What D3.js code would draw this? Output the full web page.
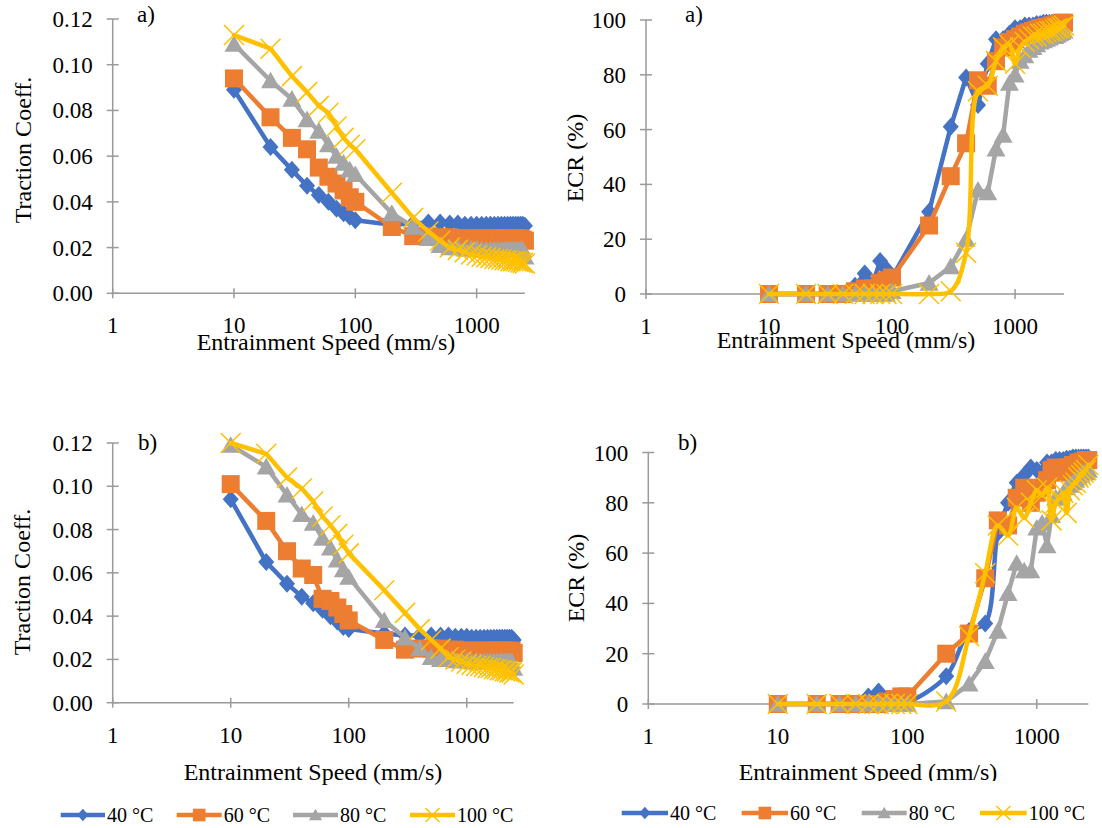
<!DOCTYPE html>
<html><head><meta charset="utf-8">
<script src="https://cdn.jsdelivr.net/npm/d3@7"></script>
<style>
body{margin:0;background:#fff}
svg{display:block}
text{font-family:"Liberation Serif","Times New Roman",serif;fill:#000}
</style>
</head><body><svg id="c" width="1102" height="828"></svg>
<script>
// ---------------- data ----------------
const speeds = [10,20,30,40,50,60,70,80,90,100,200,300,400,500,600,700,800,900,1000,
  1100,1200,1300,1400,1500,1600,1700,1800,1900,2000,2100,2200,2300,2400,2500];
const seriesNames = ["40 °C","60 °C","80 °C","100 °C"];

const tractionA_40 = [0.089,0.064,0.054,0.047,0.043,0.040,0.037,0.035,0.0335,0.032,0.030,0.0305,0.031,0.031,0.0305,0.0305,0.030,0.030,0.030,0.030,0.030,0.030,0.030,0.030,0.030,0.030,0.030,0.030,0.030,0.030,0.030,0.030,0.030,0.0295];
const tractionA_60 = [0.094,0.077,0.068,0.063,0.055,0.051,0.048,0.045,0.042,0.040,0.029,0.025,0.025,0.0245,0.0245,0.024,0.024,0.024,0.024,0.024,0.024,0.024,0.024,0.024,0.024,0.024,0.024,0.024,0.024,0.024,0.024,0.024,0.0235,0.023];
const tractionA_80 = [0.109,0.093,0.085,0.076,0.071,0.065,0.060,0.057,0.054,0.052,0.035,0.029,0.024,0.021,0.020,0.020,0.0195,0.0195,0.0195,0.019,0.019,0.019,0.019,0.019,0.019,0.019,0.019,0.019,0.019,0.019,0.019,0.019,0.019,0.016];
const tractionA_100 = [0.113,0.107,0.095,0.088,0.082,0.079,0.073,0.068,0.065,0.063,0.044,0.033,0.027,0.023,0.020,0.019,0.018,0.017,0.0165,0.016,0.0158,0.0155,0.015,0.015,0.0148,0.0145,0.0145,0.014,0.014,0.014,0.0138,0.0135,0.0133,0.013];

const tractionB_40 = [0.094,0.065,0.055,0.049,0.046,0.043,0.040,0.0375,0.035,0.034,0.032,0.031,0.031,0.031,0.031,0.031,0.0305,0.0305,0.0305,0.030,0.030,0.030,0.030,0.030,0.030,0.030,0.030,0.030,0.030,0.030,0.030,0.030,0.030,0.029];
const tractionB_60 = [0.101,0.084,0.070,0.062,0.059,0.048,0.047,0.044,0.041,0.038,0.029,0.0245,0.025,0.025,0.025,0.0245,0.0245,0.024,0.024,0.024,0.024,0.024,0.024,0.024,0.024,0.024,0.024,0.024,0.024,0.024,0.024,0.024,0.024,0.023];
const tractionB_80 = [0.119,0.109,0.096,0.087,0.083,0.076,0.0715,0.066,0.0615,0.058,0.038,0.030,0.025,0.021,0.020,0.020,0.0195,0.0195,0.0195,0.019,0.019,0.019,0.019,0.019,0.019,0.019,0.019,0.019,0.019,0.019,0.019,0.019,0.019,0.016];
const tractionB_100 = [0.120,0.115,0.104,0.099,0.093,0.086,0.082,0.078,0.073,0.069,0.052,0.0415,0.034,0.029,0.025,0.021,0.020,0.019,0.018,0.0175,0.017,0.017,0.0165,0.016,0.016,0.0155,0.0155,0.015,0.015,0.0145,0.0145,0.014,0.014,0.013];

const ecrA_40 = [0,0,0,0,3,7.5,4,12,9,6,30,61,79,69,84,93,93,95,97,97,98,98,98,98.5,98.5,99,99,99,99,99,99,99,99,99];
const ecrA_60 = [0,0,0,0,1,2,2,4,5,6,25,43,55,78,76,85,90,92,93,94,95,95.5,96,96.5,97,97,97.5,97.5,98,98,98.5,98.5,99,99];
const ecrA_80 = [0,0,0,0,0,0,0,0,0,1,4,10,20,38,37,53,58,77,80,85,87,89,90,91,92,92.5,93,93.5,94,94,94.5,95,95.5,96];
const ecrA_100 = [0,0,0,0,0,0,0,0,0,0,0,1,15,74,76,85,90,91,84,90,92,93,94,94,95,95,95.5,96,96,96.5,97,97,97.5,98];

const ecrB_40 = [0,0,0,0,3,5,2,2,2,1,11,29,32,68,80,88,91,94,93,92,96,96,97,97,97,97.5,97.5,98,98,98,98,98,98,98];
const ecrB_60 = [0,0,0,0,0,0,1,2,3,3,20,28,50,73,71,82,86,80,84,86,89,93,94,92,93,94,94,95,95,96,96,96.5,97,97];
const ecrB_80 = [0,0,0,0,0,0,0,0,0,0,1,8,17,29,44,56,53,53,70,72,63,75,82,82,84,86,87,88,89,90,91,92,92,93];
const ecrB_100 = [0,0,0,0,0,0,0,0,0,0,1,27,52,71,67,78,74,80,85,83,86,73,80,82,84,76,85,87,88,90,91,92,93,95];

const speedTicks = [1,10,100,1000];
const tractionTicks = [0,0.02,0.04,0.06,0.08,0.10,0.12];
const ecrTicks = [0,20,40,60,80,100];
const xTitle = "Entrainment Speed (mm/s)";

// ---------------- style ----------------
const colors = ["#4472C4","#ED7D31","#A5A5A5","#FFC000"];
const markerTypes = ["diamond","square","triangle","x"];
const axisColor = "#9a9a9a";

const svg = d3.select("#c");
svg.append("rect").attr("width",1102).attr("height",828).attr("fill","#fff");

function drawMarker(g, type, cx, cy, color, legend){
  const k = legend ? 0.7 : 1;
  if(type==="diamond"){
    const w=8*k,h=9*k;
    g.append("path").attr("d",`M${cx},${cy-h}L${cx+w},${cy}L${cx},${cy+h}L${cx-w},${cy}Z`).attr("fill",color);
  } else if(type==="square"){
    const s=9*k;
    g.append("rect").attr("x",cx-s).attr("y",cy-s).attr("width",2*s).attr("height",2*s).attr("fill",color);
  } else if(type==="triangle"){
    const w=9.5*k,h=9*k;
    g.append("path").attr("d",`M${cx},${cy-h}L${cx+w},${cy+h*0.85}L${cx-w},${cy+h*0.85}Z`).attr("fill",color);
  } else {
    const s=10*k;
    g.append("path").attr("d",`M${cx-s},${cy-s}L${cx+s},${cy+s}M${cx-s},${cy+s}L${cx+s},${cy-s}`)
      .attr("stroke",color).attr("stroke-width",1.5).attr("fill","none");
  }
}

const panels = [
  {x0:112.7, x1:524.9, y0:293.3, y1:19, ydom:[0,0.12], yticks:tractionTicks, fmt:d3.format(".2f"),
   series:[tractionA_40,tractionA_60,tractionA_80,tractionA_100], smooth:[false,false,false,false],
   label:"a)", lx:137, ly:22, ytitle:"Traction Coeff.", ytx:23, yty:150, xtx:326, xty:350},
  {x0:646, x1:1064, y0:294, y1:20, ydom:[0,100], yticks:ecrTicks, fmt:d3.format("d"),
   series:[ecrA_40,ecrA_60,ecrA_80,ecrA_100], smooth:[false,false,false,true],
   label:"a)", lx:685, ly:22, ytitle:"ECR (%)", ytx:575, yty:158, xtx:846, xty:348},
  {x0:112.7, x1:513.7, y0:702.7, y1:443, ydom:[0,0.12], yticks:tractionTicks, fmt:d3.format(".2f"),
   series:[tractionB_40,tractionB_60,tractionB_80,tractionB_100], smooth:[false,false,false,false],
   label:"b)", lx:138, ly:450, ytitle:"Traction Coeff.", ytx:22, yty:582, xtx:313, xty:780},
  {x0:648.3, x1:1088.3, y0:704, y1:452.5, ydom:[0,100], yticks:ecrTicks, fmt:d3.format("d"),
   series:[ecrB_40,ecrB_60,ecrB_80,ecrB_100], smooth:[true,false,false,true],
   label:"b)", lx:678, ly:450, ytitle:"ECR (%)", ytx:576, yty:578, xtx:868, xty:780, clipTitle:781}
];

const defs = svg.append("defs");

panels.forEach((p,pi)=>{
  const x = d3.scaleLog().domain([1,2500]).range([p.x0,p.x1]);
  const y = d3.scaleLinear().domain(p.ydom).range([p.y0,p.y1]);
  const g = svg.append("g");

  // axes lines
  g.append("line").attr("x1",p.x0).attr("x2",p.x1).attr("y1",p.y0).attr("y2",p.y0)
    .attr("stroke",axisColor).attr("stroke-width",1.5);
  g.append("line").attr("x1",p.x0).attr("x2",p.x0).attr("y1",p.y0).attr("y2",p.y1)
    .attr("stroke",axisColor).attr("stroke-width",1.5);
  // x ticks (cross)
  speedTicks.forEach(t=>{
    g.append("line").attr("x1",x(t)).attr("x2",x(t)).attr("y1",p.y0-5).attr("y2",p.y0+5)
      .attr("stroke",axisColor).attr("stroke-width",1.5);
    g.append("text").attr("x",x(t)).attr("y",p.y0+40).attr("text-anchor","middle")
      .attr("font-size",23).text(d3.format("d")(t));
  });
  p.yticks.forEach(t=>{
    g.append("line").attr("x1",p.x0-6).attr("x2",p.x0+6).attr("y1",y(t)).attr("y2",y(t))
      .attr("stroke",axisColor).attr("stroke-width",1.5);
    g.append("text").attr("x",p.x0-20).attr("y",y(t)).attr("dy","0.35em").attr("text-anchor","end")
      .attr("font-size",23).text(p.fmt(t));
  });
  // titles
  const xt = g.append("text").attr("x",p.xtx).attr("y",p.xty).attr("text-anchor","middle")
    .attr("font-size",24).text(xTitle);
  if(p.clipTitle){
    defs.append("clipPath").attr("id","clipT"+pi).append("rect")
      .attr("x",0).attr("y",0).attr("width",1102).attr("height",p.clipTitle);
    xt.attr("clip-path",`url(#clipT${pi})`);
  }
  g.append("text").attr("transform",`translate(${p.ytx},${p.yty}) rotate(-90)`)
    .attr("text-anchor","middle").attr("dy","0.35em").attr("font-size",24).text(p.ytitle);
  g.append("text").attr("x",p.lx).attr("y",p.ly).attr("font-size",23).text(p.label);

  // series
  p.series.forEach((vals,si)=>{
    const pts = speeds.map((s,i)=>[s,vals[i]]);
    const line = d3.line().x(d=>x(d[0])).y(d=>y(d[1]))
      .curve(p.smooth[si] ? d3.curveCatmullRom.alpha(0.5) : d3.curveLinear);
    const sg = g.append("g");
    sg.append("path").attr("d",line(pts)).attr("fill","none").attr("stroke",colors[si])
      .attr("stroke-width",4.5).attr("stroke-linejoin","round").attr("stroke-linecap","round");
    pts.forEach(d=>drawMarker(sg, markerTypes[si], x(d[0]), y(d[1]), colors[si], false));
  });
});

// legends
const legends = [
  {cy:815, lines:[[60.7,105],[176.7,221.7],[293,338],[410,455]]},
  {cy:813, lines:[[621.7,668],[741.7,788],[861.7,906.7],[980,1026.7]]}
];
legends.forEach(L=>{
  const g = svg.append("g");
  seriesNames.forEach((name,i)=>{
    const [a,b] = L.lines[i];
    g.append("line").attr("x1",a).attr("x2",b).attr("y1",L.cy).attr("y2",L.cy)
      .attr("stroke",colors[i]).attr("stroke-width",4.5);
    drawMarker(g, markerTypes[i], (a+b)/2, L.cy, colors[i], true);
    g.append("text").attr("x",b+2).attr("y",L.cy).attr("dy","0.35em").attr("font-size",20).text(name);
  });
});
</script>
</body></html>
